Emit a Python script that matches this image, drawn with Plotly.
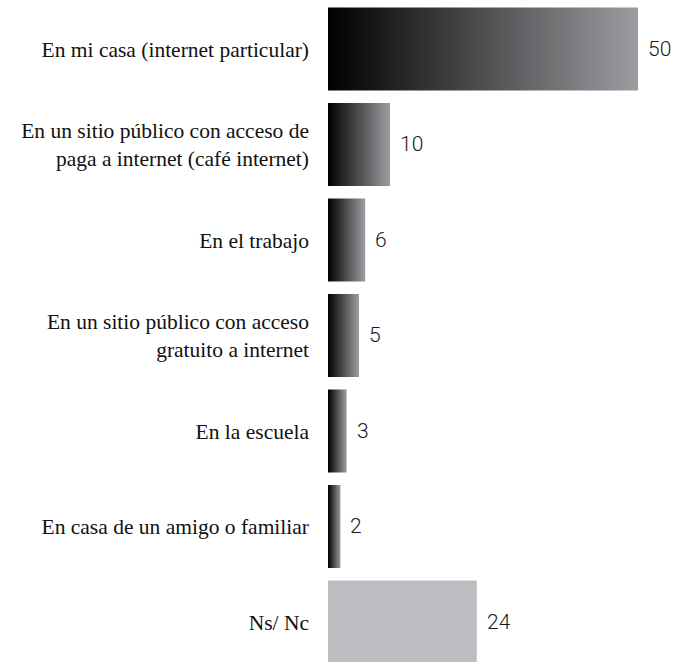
import plotly.graph_objects as go

# Where people connect to the internet (percent)
categories = [
    "En mi casa (internet particular)",
    "En un sitio público con acceso de<br>paga a internet (café internet)",
    "En el trabajo",
    "En un sitio público con acceso<br>gratuito a internet",
    "En la escuela",
    "En casa de un amigo o familiar",
    "Ns/ Nc",
]
values = [50, 10, 6, 5, 3, 2, 24]

GRAD_START = "#000000"
GRAD_END = "#9c9da1"
NSNC_COLOR = "#bcbdc0"
HALF = 0.435  # half bar thickness in category units

fig = go.Figure()

for i, (cat, v) in enumerate(zip(categories, values)):
    xs = [0, v, v, 0, 0]
    ys = [i - HALF, i - HALF, i + HALF, i + HALF, i - HALF]
    if cat.startswith("Ns/"):
        fill_kw = dict(fillcolor=NSNC_COLOR)
    else:
        fill_kw = dict(
            fillgradient=dict(
                type="horizontal",
                colorscale=[[0, GRAD_START], [1, GRAD_END]],
            )
        )
    fig.add_trace(
        go.Scatter(
            x=xs,
            y=ys,
            mode="lines",
            fill="toself",
            line=dict(width=0),
            hoverinfo="skip",
            showlegend=False,
            **fill_kw,
        )
    )
    fig.add_annotation(
        x=v,
        y=i,
        text=str(v),
        showarrow=False,
        xanchor="left",
        yanchor="middle",
        xshift=8,
        font=dict(family="Roboto", size=21, color="#1a1a1a", weight=300),
    )

fig.update_layout(
    width=675,
    height=662,
    margin=dict(l=328, r=0, t=0, b=0),
    paper_bgcolor="white",
    plot_bgcolor="white",
    xaxis=dict(
        range=[0, 55.97],
        visible=False,
        fixedrange=True,
    ),
    yaxis=dict(
        range=[6.419, -0.513],
        tickmode="array",
        tickvals=list(range(len(categories))),
        ticktext=categories,
        showgrid=False,
        zeroline=False,
        showline=False,
        ticks="",
        ticklabelstandoff=18,
        tickfont=dict(family="Liberation Serif", size=21.5, color="#111111"),
        fixedrange=True,
    ),
)

fig.write_html("out.html")
